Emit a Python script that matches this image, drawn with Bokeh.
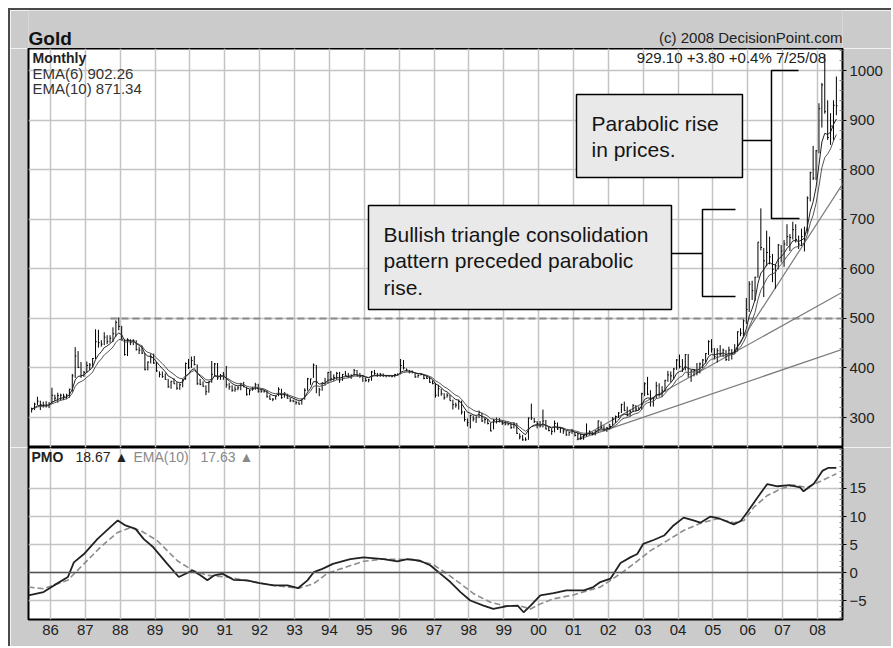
import numpy as np
import pandas as pd
from bokeh.plotting import figure
from bokeh.layouts import column
from bokeh.models import FixedTicker, Range1d, Label, Span, ColumnDataSource
from bokeh.core.properties import value
from bokeh.embed import file_html
from bokeh.resources import INLINE

# ---------------- data (monthly gold bars, Jun 1985 .. Jul 2008) ----------------
close = [
    317, 327, 333, 326, 325, 325, 327,                               # 1985 Jun-Dec
    345, 339, 344, 345, 343, 345, 357, 384, 424, 401, 385, 391,      # 1986
    405, 406, 419, 453, 451, 448, 462, 453, 460, 469, 492, 484,      # 1987
    458, 427, 457, 451, 455, 437, 436, 430, 397, 412, 422, 410,      # 1988
    394, 387, 383, 377, 362, 373, 368, 359, 366, 376, 409, 401,      # 1989
    415, 407, 368, 367, 363, 352, 372, 387, 408, 380, 384, 386,      # 1990
    366, 362, 355, 357, 360, 368, 362, 347, 354, 357, 366, 353,      # 1991
    353, 353, 342, 337, 337, 343, 357, 340, 349, 339, 334, 333,      # 1992
    330, 327, 337, 355, 378, 378, 406, 372, 356, 370, 371, 391,      # 1993
    378, 381, 389, 376, 387, 385, 384, 385, 395, 384, 383, 383,      # 1994
    375, 376, 392, 389, 385, 387, 384, 384, 384, 383, 387, 387,      # 1995
    405, 400, 396, 392, 391, 382, 385, 387, 379, 379, 371, 369,      # 1996
    345, 358, 348, 340, 345, 334, 326, 325, 332, 311, 296, 290,      # 1997
    304, 297, 301, 310, 293, 296, 288, 273, 294, 292, 294, 288,      # 1998
    287, 287, 280, 286, 268, 261, 255, 255, 299, 299, 292, 288,      # 1999
    283, 293, 277, 274, 272, 288, 277, 278, 273, 265, 270, 273,      # 2000
    264, 267, 258, 264, 268, 271, 266, 273, 293, 280, 275, 279,      # 2001
    282, 297, 302, 309, 326, 314, 304, 312, 324, 317, 317, 348,      # 2002
    368, 347, 336, 339, 364, 346, 354, 375, 386, 384, 398, 416,      # 2003
    403, 397, 427, 387, 394, 395, 391, 408, 416, 429, 453, 438,      # 2004
    423, 435, 428, 436, 417, 436, 430, 434, 473, 470, 495, 518,      # 2005
    569, 556, 583, 654, 643, 616, 633, 624, 599, 606, 648, 636,      # 2006
    650, 665, 663, 679, 659, 650, 665, 672, 743, 794, 783, 838,      # 2007
    923, 971, 917, 865, 888, 930, 929,                               # 2008 Jan-Jul
]
high = [
    320, 330, 342, 334, 332, 333, 331,
    360, 346, 350, 348, 348, 348, 358, 388, 442, 434, 412, 394,
    413, 410, 420, 478, 477, 456, 472, 466, 466, 482, 496, 502,
    485, 458, 460, 458, 458, 456, 443, 445, 430, 413, 429, 429,
    412, 393, 393, 389, 378, 374, 379, 371, 369, 378, 411, 418,
    423, 424, 407, 378, 373, 365, 373, 414, 410, 410, 388, 392,
    404, 370, 365, 363, 363, 370, 372, 362, 357, 362, 370, 368,
    358, 356, 355, 345, 339, 344, 361, 358, 351, 348, 340, 336,
    334, 332, 338, 359, 380, 378, 409, 406, 360, 371, 380, 392,
    394, 387, 392, 392, 388, 394, 390, 387, 398, 396, 390, 386,
    381, 378, 394, 396, 390, 390, 389, 386, 386, 386, 388, 389,
    418, 416, 399, 396, 395, 391, 387, 390, 388, 385, 383, 375,
    370, 366, 358, 349, 349, 346, 336, 330, 336, 334, 313, 298,
    306, 304, 302, 314, 310, 300, 297, 289, 297, 300, 299, 295,
    293, 290, 290, 291, 289, 268, 265, 260, 300, 328, 299, 293,
    293, 316, 295, 282, 278, 294, 290, 281, 278, 273, 271, 277,
    271, 269, 268, 266, 288, 274, 271, 274, 294, 292, 284, 281,
    287, 301, 304, 311, 328, 332, 322, 316, 327, 325, 322, 350,
    371, 382, 355, 341, 372, 369, 363, 376, 394, 393, 400, 418,
    427, 418, 428, 428, 396, 398, 410, 411, 418, 430, 456, 458,
    440, 440, 446, 439, 436, 443, 438, 448, 474, 480, 498, 541,
    575, 576, 584, 654, 722, 642, 677, 665, 630, 609, 650, 648,
    658, 690, 670, 695, 690, 667, 681, 685, 746, 796, 848, 840,
    934, 975, 1033, 940, 914, 940, 988,
]
low = [
    310, 315, 325, 315, 320, 320, 319,
    327, 333, 330, 334, 335, 337, 340, 352, 380, 400, 380, 382,
    390, 396, 401, 418, 441, 443, 446, 448, 451, 452, 463, 476,
    455, 425, 424, 446, 446, 435, 428, 428, 395, 395, 409, 408,
    392, 381, 380, 376, 360, 358, 368, 356, 356, 361, 376, 398,
    400, 405, 366, 365, 362, 345, 350, 370, 383, 376, 376, 376,
    360, 356, 352, 352, 355, 355, 361, 344, 345, 354, 356, 350,
    350, 350, 340, 336, 333, 336, 343, 338, 340, 338, 331, 331,
    326, 326, 326, 336, 354, 366, 380, 349, 343, 354, 365, 368,
    373, 374, 376, 370, 374, 384, 380, 378, 384, 383, 380, 372,
    372, 371, 374, 386, 382, 382, 382, 381, 382, 381, 381, 385,
    387, 397, 393, 389, 389, 380, 380, 385, 377, 378, 370, 367,
    340, 342, 344, 336, 340, 334, 316, 320, 316, 306, 292, 282,
    278, 292, 289, 299, 291, 288, 286, 272, 276, 288, 290, 285,
    284, 284, 277, 278, 267, 256, 253, 253, 255, 295, 289, 278,
    280, 280, 276, 272, 265, 270, 275, 269, 267, 263, 263, 267,
    262, 255, 255, 255, 262, 265, 264, 264, 270, 277, 272, 271,
    276, 282, 289, 299, 309, 313, 302, 302, 311, 312, 315, 316,
    343, 345, 322, 322, 338, 342, 341, 352, 372, 371, 377, 396,
    399, 392, 395, 381, 372, 383, 385, 389, 399, 409, 426, 431,
    417, 411, 424, 422, 414, 414, 417, 429, 433, 464, 464, 489,
    513, 537, 535, 582, 637, 543, 605, 609, 573, 560, 599, 613,
    604, 646, 636, 659, 653, 640, 646, 635, 670, 736, 779, 779,
    833, 885, 913, 860, 850, 858, 910,
]

# PMO (solid) and its EMA(10) signal (dashed)
pmo_t = [1985.37, 1985.8, 1986.1, 1986.5, 1986.67, 1986.96, 1987.35, 1987.7, 1987.93, 1988.15,
         1988.44, 1988.67, 1988.95, 1989.35, 1989.68, 1990.07, 1990.3, 1990.5, 1990.7, 1990.93,
         1991.25, 1991.65, 1992.0, 1992.4, 1992.8, 1993.1, 1993.37, 1993.55, 1993.8, 1994.1,
         1994.6, 1994.98, 1995.55, 1995.95, 1996.24, 1996.6, 1996.9, 1997.18, 1997.47, 1997.76,
         1998.04, 1998.42, 1998.7, 1999.1, 1999.4, 1999.57, 1999.77, 2000.05, 2000.43, 2000.8,
         2001.3, 2001.57, 2001.77, 2002.06, 2002.35, 2002.63, 2002.83, 2003.0, 2003.3, 2003.6,
         2003.87, 2004.16, 2004.44, 2004.64, 2004.93, 2005.2, 2005.6, 2005.8, 2005.99, 2006.28,
         2006.56, 2006.85, 2007.2, 2007.5, 2007.6, 2007.9, 2008.15, 2008.3, 2008.54]
pmo_v = [-4.1, -3.5, -2.3, -0.8, 1.8, 3.3, 6.0, 8.0, 9.3, 8.4,
         7.8, 6.0, 4.5, 1.55, -0.8, 0.36, -0.5, -1.4, -0.5, -0.2,
         -1.3, -1.4, -1.9, -2.3, -2.3, -2.8, -1.4, 0.06, 0.65, 1.55,
         2.4, 2.7, 2.4, 2.0, 2.4, 2.1, 1.25, -0.2, -1.7, -3.5,
         -5.0, -5.9, -6.5, -6.0, -5.9, -7.1, -5.9, -4.1, -3.7, -3.2,
         -3.2, -2.6, -1.7, -1.1, 1.7, 2.7, 3.3, 5.1, 5.8, 6.6,
         8.4, 9.8, 9.3, 8.9, 10.0, 9.6, 8.6, 9.2, 10.8, 13.4,
         15.8, 15.4, 15.6, 15.2, 14.5, 15.9, 18.2, 18.67, 18.67]
sig_t = [1985.37, 1985.8, 1986.49, 1986.96, 1987.43, 1987.91, 1988.29, 1988.58, 1989.06, 1989.64,
         1990.07, 1990.5, 1991.07, 1991.83, 1992.4, 1993.13, 1993.55, 1993.93, 1994.32, 1994.98,
         1995.55, 1996.41, 1996.98, 1997.37, 1997.76, 1998.14, 1998.62, 1998.99, 1999.48, 1999.77,
         2000.05, 2000.43, 2001.0, 2001.77, 2002.35, 2002.73, 2003.21, 2003.69, 2004.16, 2004.64,
         2005.13, 2005.6, 2005.89, 2006.18, 2006.56, 2006.94, 2007.31, 2007.71, 2008.09, 2008.54]
sig_v = [-2.6, -2.9, -1.4, 1.55, 4.5, 7.1, 8.0, 7.5, 5.7, 2.1,
         0.4, -0.5, -0.8, -1.7, -2.3, -2.8, -2.0, -0.2, 0.65, 2.0,
         2.4, 2.3, 1.4, -0.2, -2.0, -3.8, -5.3, -5.9, -6.0, -6.5,
         -5.6, -4.7, -4.0, -2.6, -0.2, 1.55, 3.9, 5.7, 7.5, 8.8,
         9.6, 8.9, 9.3, 11.7, 13.75, 14.9, 15.6, 15.2, 16.3, 17.63]

year_ticks = list(range(1986, 2009))
year_labels = {y: f"{y % 100:02d}" for y in year_ticks}
price_ticks = [300, 400, 500, 600, 700, 800, 900, 1000]
pmo_ticks = [-5, 0, 5, 10, 15]

# trendlines / resistance drawn by the analyst (price panel data units)
trend_lines = [
    ([2001.1, 2009.86], [255, 465]),
    ([2001.1, 2010.18], [255, 610]),
    ([2005.6, 2009.52], [432, 858]),
]
resistance = ([1987.72, 2008.72], [500, 500])

# ---------------- styling ----------------
FONT = "Liberation Sans"
PANEL = "#cbcbcb"
GRID = "#c4c4c4"

dates = pd.date_range("1985-06-01", periods=len(close), freq="MS")
t = np.asarray(dates.year + (dates.month - 0.5) / 12.0)
cl = pd.Series(close, dtype=float)
ema6 = cl.ewm(span=6, adjust=False).mean()
ema10 = cl.ewm(span=10, adjust=False).mean()
src = ColumnDataSource(dict(t=t, t2=t + 0.035, high=high, low=low, close=close,
                            ema6=ema6, ema10=ema10))

xr = Range1d(1985.369, 2008.717)

# header strip (title + copyright) on the grey panel
hdr = figure(frame_width=814, frame_height=38, x_range=xr, y_range=Range1d(0, 38),
             x_axis_location=None, y_axis_location=None, output_backend="svg",
             toolbar_location=None, min_border_left=18, min_border_right=49,
             min_border_top=0, min_border_bottom=0, border_fill_color=PANEL,
             background_fill_color=PANEL, outline_line_color=None)
hdr.grid.visible = False
hdr.text(x=[1985.369], y=[10], text=["Gold"], text_font=value(FONT), text_font_size="19px",
         text_font_style="bold", text_color="#111111", text_baseline="alphabetic",
         text_align="left")
hdr.text(x=[2008.717], y=[11], text=["(c) 2008 DecisionPoint.com"], text_font=value(FONT),
         text_font_size="15px", text_color="#222222", text_baseline="alphabetic",
         text_align="right")

p1 = figure(frame_width=814, frame_height=399, x_range=xr, y_range=Range1d(239.5, 1044.5),
            x_axis_location=None, y_axis_location="right", output_backend="svg",
            toolbar_location=None, min_border_left=18, min_border_right=49,
            min_border_top=0, min_border_bottom=0, border_fill_color=PANEL,
            background_fill_color="white")
p2 = figure(frame_width=814, frame_height=172, x_range=xr, y_range=Range1d(-8.39, 22.32),
            y_axis_location="right", output_backend="svg", toolbar_location=None,
            min_border_left=18, min_border_right=49, min_border_top=0, min_border_bottom=27,
            border_fill_color=PANEL, background_fill_color="white")

for p in (p1, p2):
    p.outline_line_color = "black"
    p.outline_line_width = 2
    for g in p.xgrid:
        g.ticker = FixedTicker(ticks=year_ticks)
        g.grid_line_color = GRID
        g.grid_line_width = 1.5
    for g in p.ygrid:
        g.grid_line_color = GRID
        g.grid_line_width = 1.5
    ax = p.yaxis[0]
    ax.axis_line_color = None
    ax.major_tick_out = 4
    ax.major_tick_in = 0
    ax.minor_tick_in = 3
    ax.minor_tick_out = 0
    ax.major_tick_line_color = "black"
    ax.minor_tick_line_color = "#888888"
    ax.major_label_standoff = 3
    ax.major_label_text_font = FONT
    ax.major_label_text_font_size = "15px"
    ax.major_label_text_color = "#222222"

p1.yaxis[0].ticker = FixedTicker(ticks=price_ticks, minor_ticks=list(range(240, 1045, 20)))
p1.ygrid[0].ticker = FixedTicker(ticks=price_ticks)
p2.yaxis[0].ticker = FixedTicker(ticks=pmo_ticks, minor_ticks=list(range(-8, 23)))
p2.ygrid[0].ticker = FixedTicker(ticks=pmo_ticks)

xa = p2.xaxis[0]
xa.ticker = FixedTicker(ticks=year_ticks, minor_ticks=[])
xa.major_label_overrides = year_labels
xa.axis_line_color = None
xa.major_tick_out = 0
xa.major_tick_in = 0
xa.major_label_standoff = 5
xa.major_label_text_font = FONT
xa.major_label_text_font_size = "15px"
xa.major_label_text_color = "#222222"

# ---------------- price panel ----------------
p1.line(resistance[0], resistance[1], line_color="#8a8a8a", line_width=2, line_dash="7 4")
for xs, ys in trend_lines:
    p1.line(xs, ys, line_color="#7a7a7a", line_width=1.2)
p1.segment("t", "low", "t", "high", source=src, line_color="black", line_width=1)
p1.segment("t", "close", "t2", "close", source=src, line_color="black", line_width=1)
p1.line("t", "ema10", source=src, line_color="#555555", line_width=1)
p1.line("t", "ema6", source=src, line_color="#222222", line_width=1)

# annotation boxes and brackets
p1.quad(left=[2001.087, 1995.121], right=[2005.848, 2003.812], top=[951.6, 727.7],
        bottom=[784.1, 517.9], fill_color="#e9e9e9", line_color="black", line_width=1.5)
p1.multi_line(
    xs=[[2005.848, 2006.680], [2007.455, 2006.680, 2006.680, 2007.483],
        [2003.812, 2004.701], [2005.648, 2004.701, 2004.701, 2005.648]],
    ys=[[858.8, 858.8], [1000.0, 1000.0, 701.4, 701.4],
        [630.8, 630.8], [719.6, 719.6, 544.1, 544.1]],
    line_color="black", line_width=1.5)


def label(p, x, y, text, size, color="#111111", style="normal", align="left"):
    p.add_layout(Label(x=x, y=y, text=text, text_font=FONT, text_font_size=size,
                       text_color=color, text_font_style=style, text_align=align,
                       text_baseline="alphabetic"))


for (x, y, s) in [(2001.517, 893.1, "Parabolic rise"), (2001.517, 840.6, "in prices."),
                  (1995.551, 669.2, "Bullish triangle consolidation"),
                  (1995.551, 616.7, "pattern preceded parabolic"),
                  (1995.551, 562.2, "rise.")]:
    label(p1, x, y, s, "21px", color="#151515")

label(p1, 2008.602, 1026.2, "929.10  +3.80  +0.4%  7/25/08", "15px", color="#222222", align="right")
label(p1, 1985.484, 1026.2, "Monthly", "14px", color="#222222", style="bold")
label(p1, 1985.484, 993.9, "EMA(6) 902.26", "15px", color="#333333")
label(p1, 1985.484, 963.7, "EMA(10) 871.34", "15px", color="#333333")

# ---------------- PMO panel ----------------
p2.add_layout(Span(location=0, dimension="width", line_color="#555555", line_width=1.5))
p2.line(sig_t, sig_v, line_color="#8c8c8c", line_width=1.6, line_dash="6 3")
p2.line(pmo_t, pmo_v, line_color="#222222", line_width=1.8)
label(p2, 1985.455, 20.71, "PMO", "14px", color="#222222", style="bold")
label(p2, 1986.717, 20.71, "18.67 \u25b2", "14px", color="#222222")
label(p2, 1988.381, 20.71, "EMA(10)", "14px", color="#8a8a8a")
label(p2, 1990.302, 20.71, "17.63 \u25b2", "14px", color="#8a8a8a")

layout = column(hdr, p1, p2, spacing=0,
                styles={"margin-left": "8px", "margin-top": "8px",
                        "border-left": "2px solid #4a4a4a", "border-top": "2px solid #4a4a4a"})
open("out.html", "w").write(file_html(layout, INLINE))
